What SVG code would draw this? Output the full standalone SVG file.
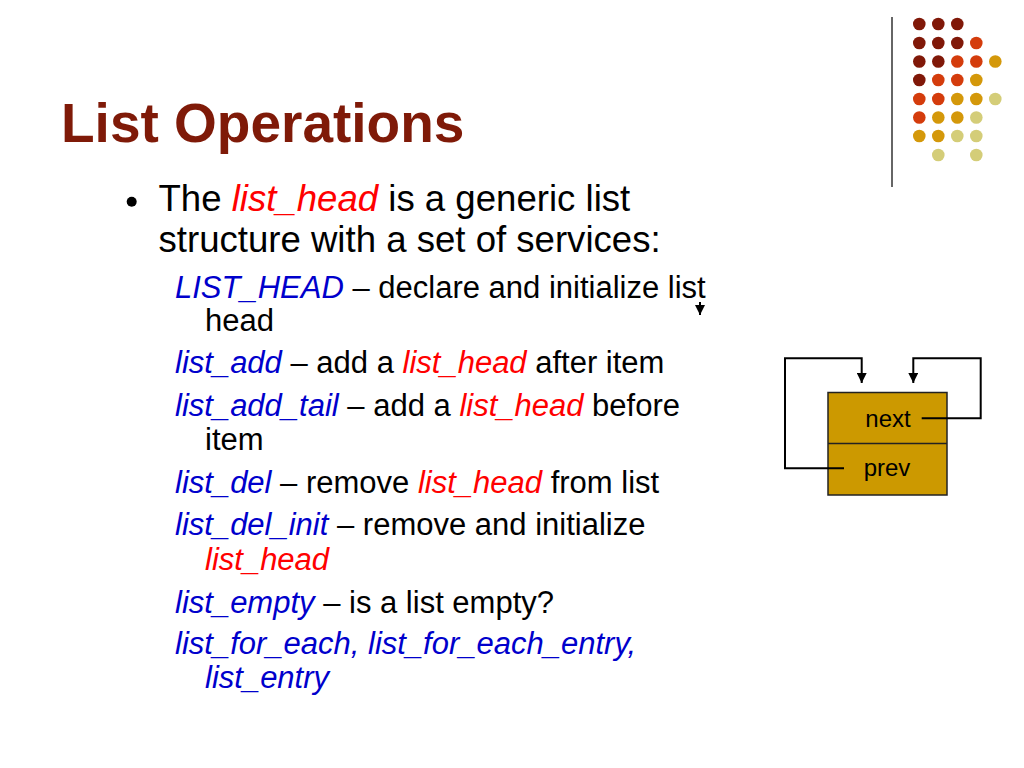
<svg xmlns="http://www.w3.org/2000/svg" width="1024" height="768" viewBox="0 0 1024 768">
<defs>
<style>
.t{font-family:"Liberation Sans",Arial,sans-serif;}
.title{font-size:55px;font-weight:bold;fill:#7F1A08;}
.main{font-size:36.6px;fill:#000;}
.sub{font-size:31px;fill:#000;}
.b{fill:#0000CC;font-style:italic;}
.r{fill:#FF0000;font-style:italic;}
.d1{fill:#801808;}
.d2{fill:#D43C0C;}
.d3{fill:#D4980A;}
.d4{fill:#D4CD78;}
.conn{fill:none;stroke:#000;stroke-width:2;}
.lbl{font-family:"Liberation Sans",Arial,sans-serif;font-size:24px;fill:#000;}
</style>
<marker id="ah" viewBox="0 0 10 10" refX="10" refY="5" markerWidth="5" markerHeight="5" orient="auto" markerUnits="strokeWidth">
<path d="M0,0 L10,5 L0,10 Z" fill="#000"/>
</marker>
</defs>
<rect width="1024" height="768" fill="#fff"/>

<g id="decor">
<line x1="892" y1="17" x2="892" y2="187" stroke="#333" stroke-width="1.5"/>
<circle class="d1" cx="919.3" cy="24" r="6.3"/><circle class="d1" cx="938.3" cy="24" r="6.3"/><circle class="d1" cx="957.3" cy="24" r="6.3"/>
<circle class="d1" cx="919.3" cy="43" r="6.3"/><circle class="d1" cx="938.3" cy="43" r="6.3"/><circle class="d1" cx="957.3" cy="43" r="6.3"/><circle class="d2" cx="976.3" cy="43" r="6.3"/>
<circle class="d1" cx="919.3" cy="61.5" r="6.3"/><circle class="d1" cx="938.3" cy="61.5" r="6.3"/><circle class="d2" cx="957.3" cy="61.5" r="6.3"/><circle class="d2" cx="976.3" cy="61.5" r="6.3"/><circle class="d3" cx="995.3" cy="61.5" r="6.3"/>
<circle class="d1" cx="919.3" cy="80" r="6.3"/><circle class="d2" cx="938.3" cy="80" r="6.3"/><circle class="d2" cx="957.3" cy="80" r="6.3"/><circle class="d3" cx="976.3" cy="80" r="6.3"/>
<circle class="d2" cx="919.3" cy="99" r="6.3"/><circle class="d2" cx="938.3" cy="99" r="6.3"/><circle class="d3" cx="957.3" cy="99" r="6.3"/><circle class="d3" cx="976.3" cy="99" r="6.3"/><circle class="d4" cx="995.3" cy="99" r="6.3"/>
<circle class="d2" cx="919.3" cy="117.5" r="6.3"/><circle class="d3" cx="938.3" cy="117.5" r="6.3"/><circle class="d3" cx="957.3" cy="117.5" r="6.3"/><circle class="d4" cx="976.3" cy="117.5" r="6.3"/>
<circle class="d3" cx="919.3" cy="136" r="6.3"/><circle class="d3" cx="938.3" cy="136" r="6.3"/><circle class="d4" cx="957.3" cy="136" r="6.3"/><circle class="d4" cx="976.3" cy="136" r="6.3"/>
<circle class="d4" cx="938.3" cy="155" r="6.3"/><circle class="d4" cx="976.3" cy="155" r="6.3"/>
</g>

<g id="title">
<text class="t title" x="61" y="142">List Operations</text>
</g>

<g id="body">
<circle cx="131.7" cy="201.7" r="5" fill="#000"/>
<text class="t main" x="158.5" y="211">The <tspan class="r">list_head</tspan> is a generic list</text>
<text class="t main" x="158.5" y="251.5">structure with a set of services:</text>

<text class="t sub" x="175" y="298"><tspan class="b">LIST_HEAD</tspan> – declare and initialize list</text>
<text class="t sub" x="205" y="331">head</text>
<text class="t sub" x="175" y="373"><tspan class="b">list_add</tspan> – add a <tspan class="r">list_head</tspan> after item</text>
<text class="t sub" x="175" y="416"><tspan class="b">list_add_tail</tspan> – add a <tspan class="r">list_head</tspan> before</text>
<text class="t sub" x="205" y="450">item</text>
<text class="t sub" x="175" y="493"><tspan class="b">list_del</tspan> – remove <tspan class="r">list_head</tspan> from list</text>
<text class="t sub" x="175" y="535"><tspan class="b">list_del_init</tspan> – remove and initialize</text>
<text class="t sub r" x="205" y="570">list_head</text>
<text class="t sub" x="175" y="613"><tspan class="b">list_empty</tspan> – is a list empty?</text>
<text class="t sub b" x="175" y="654">list_for_each, list_for_each_entry,</text>
<text class="t sub b" x="205" y="688">list_entry</text>
</g>

<g id="node-listhead">
<rect x="828" y="392.5" width="119" height="102.5" fill="#CC9900" stroke="#222" stroke-width="1.5"/>
<line x1="828" y1="443.5" x2="947" y2="443.5" stroke="#222" stroke-width="1.5"/>
<text class="lbl" x="888" y="427" text-anchor="middle">next</text>
<text class="lbl" x="887" y="476" text-anchor="middle">prev</text>
</g>

<g id="connectors">
<path class="conn" d="M844,468.3 H785 V358.3 H861.7 V383" marker-end="url(#ah)"/>
<path class="conn" d="M921.7,418.3 H980.7 V358.3 H913.3 V383" marker-end="url(#ah)"/>
<path class="conn" d="M700,302 V315" stroke-width="1.5" marker-end="url(#ah)"/>
</g>
</svg>
